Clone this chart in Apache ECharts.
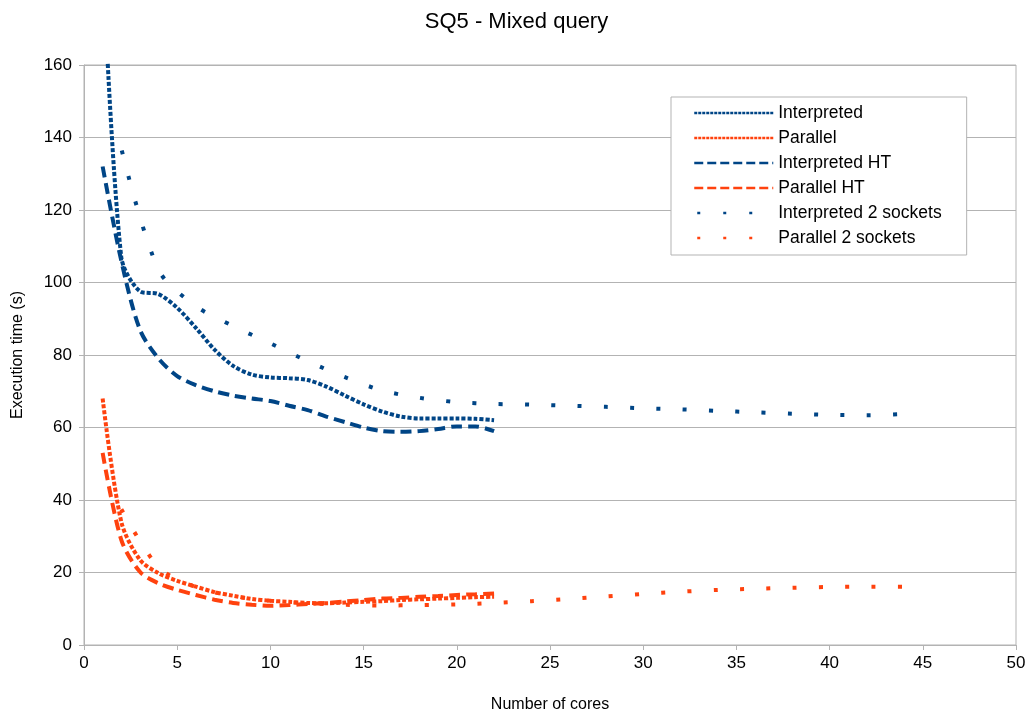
<!DOCTYPE html>
<html>
<head>
<meta charset="utf-8">
<script src="https://cdn.jsdelivr.net/npm/echarts@6/dist/echarts.min.js"></script>
<style>
html,body{margin:0;padding:0;background:#fff;}
#chart{width:1033px;height:715px;}
</style>
</head>
<body>
<div id="chart"></div>
<script>
// ---- data ----
const coresSingle = [1,2,3,4,5,6,7,8,9,10,11,12,13,14,15,16,17,18,19,20,21,22];
const coresDual = [2,4,6,8,10,12,14,16,18,20,22,24,26,28,30,32,34,36,38,40,42,44];

const interpreted = [190,107,97.6,96.8,93,87.5,81.5,77,74.6,73.8,73.6,73.1,71.3,68.8,66.4,64.4,63,62.5,62.5,62.5,62.4,62];
const parallel = [68,34,23.5,19.8,17.7,16.1,14.6,13.6,12.7,12.2,11.9,11.6,11.5,11.7,11.9,12.1,12.4,12.6,12.8,13,13.2,13.3];
const interpretedHT = [132,106,87,79,74.2,71.7,70,68.8,68,67.3,66,64.8,63,61.5,60,59,58.8,59,59.6,60.3,60.3,59];
const parallelHT = [53,29,20.2,17,15.2,13.8,12.5,11.6,11.1,10.8,11,11.3,11.6,12,12.4,12.8,13,13.3,13.5,13.8,14,14.2];
const interpreted2 = [137,103.5,93.5,88,83.2,78.3,73.9,70.2,68.2,67,66.5,66.3,66,65.7,65.3,65,64.6,64.2,63.8,63.5,63.4,63.7];
const parallel2 = [37.5,21.5,16,13.5,12.2,11.5,11.1,10.9,11,11.2,11.6,12.1,12.7,13.4,14.1,14.7,15.2,15.5,15.8,16,16.1,16.1];

const xTicks = [0,5,10,15,20,25,30,35,40,45,50];
const yTicks = [0,20,40,60,80,100,120,140,160];

const BLUE = '#004586', ORANGE = '#ff420e';
const FONT = 'Liberation Sans';

function pairs(xs, ys){ return xs.map((x,i)=>[x, ys[i]]); }

function mk(name, xs, ys, color, dash, width, offset){
  return {
    name, type:'line', data: pairs(xs, ys), smooth: 0.3,
    symbol:'none', showSymbol:false, clip:true,
    lineStyle:{color, width, type: dash, dashOffset: offset || 0, cap:'butt'},
    itemStyle:{color},
    emphasis:{disabled:true}, animation:false
  };
}
function leg(name, dash, offset){
  return {name, lineStyle:{type:dash, width:2.5, dashOffset: offset || 0},
          itemStyle:{color:'rgba(0,0,0,0)', borderColor:'rgba(0,0,0,0)', borderWidth:0, opacity:0}};
}

const chart = echarts.init(document.getElementById('chart'), null, {renderer:'canvas'});
chart.setOption({
  animation:false,
  backgroundColor:'#fff',
  textStyle:{fontFamily:FONT},
  title:{
    text:'SQ5 - Mixed query', left:'center', top:6,
    textStyle:{fontFamily:FONT, fontSize:22, fontWeight:'normal', color:'#000'}
  },
  grid:{left:84, right:17, top:65, bottom:70, containLabel:false, outerBoundsMode:'none',
        show:true, borderColor:'#b3b3b3', borderWidth:1, backgroundColor:'transparent'},
  legend:{
    orient:'vertical', left:671, top:97,
    backgroundColor:'#fff', borderColor:'#b3b3b3', borderWidth:1,
    padding:[7,25,8,22], itemGap:7, itemWidth:79, itemHeight:18,
    textStyle:{fontFamily:FONT, fontSize:17.5, color:'#000'},
    itemStyle:{color:'rgba(0,0,0,0)', borderColor:'rgba(0,0,0,0)', borderWidth:0, opacity:0},
    lineStyle:{width:2.5},
    data:[
      leg('Interpreted',[3,1]),
      leg('Parallel',[3,1]),
      leg('Interpreted HT',[9,4]),
      leg('Parallel HT',[9,4]),
      leg('Interpreted 2 sockets',[3,23],23),
      leg('Parallel 2 sockets',[3,23],23)
    ]
  },
  xAxis:{
    type:'value', min:xTicks[0], max:xTicks[xTicks.length-1], interval:5,
    name:'Number of cores', nameLocation:'middle', nameGap:52,
    nameTextStyle:{fontFamily:FONT, fontSize:16, color:'#000'},
    axisLine:{lineStyle:{color:'#b3b3b3', width:1}},
    axisTick:{show:true, length:5, lineStyle:{color:'#b3b3b3'}},
    axisLabel:{fontFamily:FONT, fontSize:17, color:'#000', margin:10},
    splitLine:{show:false}
  },
  yAxis:{
    type:'value', min:yTicks[0], max:yTicks[yTicks.length-1], interval:20,
    name:'Execution time (s)', nameLocation:'middle', nameGap:58,
    nameTextStyle:{fontFamily:FONT, fontSize:16, color:'#000'},
    axisLine:{show:true, lineStyle:{color:'#b3b3b3', width:1}},
    axisTick:{show:true, length:5, lineStyle:{color:'#b3b3b3'}},
    axisLabel:{fontFamily:FONT, fontSize:17, color:'#000', margin:12},
    splitLine:{show:true, lineStyle:{color:'#b3b3b3', width:1}}
  },
  series:[
    mk('Interpreted', coresSingle, interpreted, BLUE, [4,2], 4),
    mk('Parallel', coresSingle, parallel, ORANGE, [4,2], 4),
    mk('Interpreted HT', coresSingle, interpretedHT, BLUE, [11,6], 4),
    mk('Parallel HT', coresSingle, parallelHT, ORANGE, [11,6], 4),
    mk('Interpreted 2 sockets', coresDual, interpreted2, BLUE, [4,22.3], 4, 24),
    mk('Parallel 2 sockets', coresDual, parallel2, ORANGE, [4,22.3], 4, 26)
  ]
});
</script>
</body>
</html>
